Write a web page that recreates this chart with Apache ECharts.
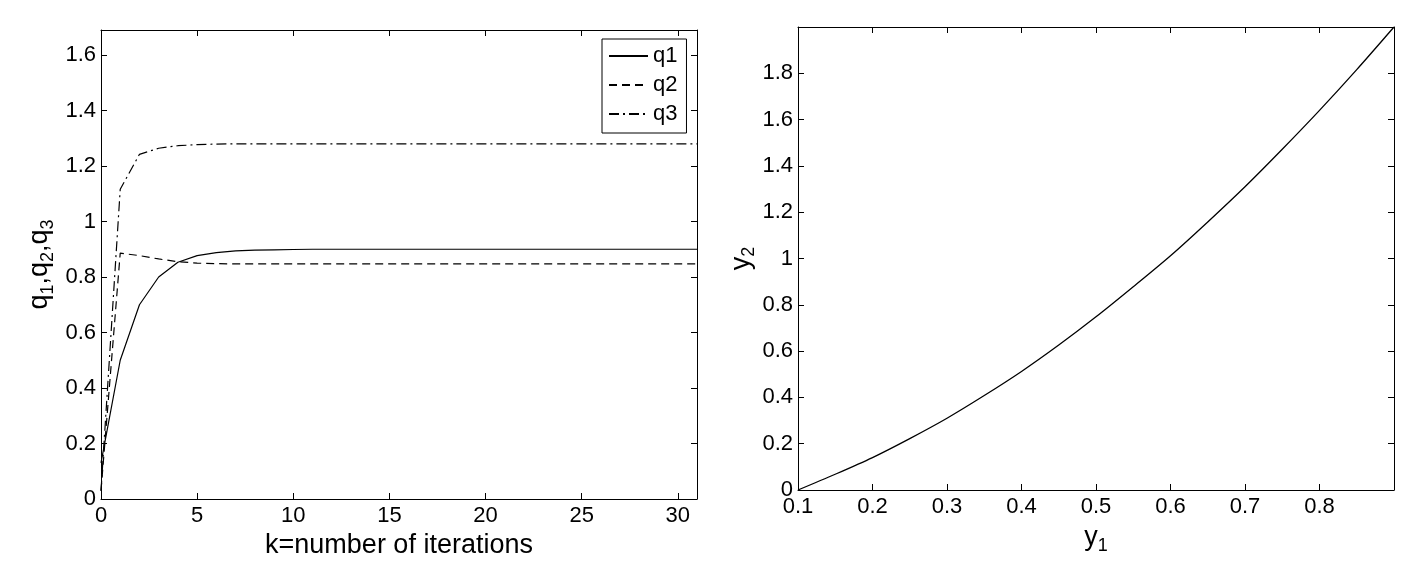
<!DOCTYPE html>
<html><head><meta charset="utf-8">
<script src="https://cdn.jsdelivr.net/npm/echarts/dist/echarts.min.js"></script>
<style>html,body{margin:0;padding:0;background:#fff}#c{width:1409px;height:566px}</style>
</head><body><div id="c"></div>
<script>
// ---- data ----
const iterations = [0,1,2,3,4,5,6,7,8,9,10,11,12,13,14,15,16,17,18,19,20,21,22,23,24,25,26,27,28,29,30,31];
const q1 = [0.13,0.50,0.70,0.80,0.853,0.877,0.888,0.894,0.897,0.898,0.899,0.900,0.900,0.900,0.900,0.900,0.900,0.900,0.900,0.900,0.900,0.900,0.900,0.900,0.900,0.900,0.900,0.900,0.900,0.900,0.900,0.900];
const q2 = [0.03,0.886,0.877,0.865,0.855,0.850,0.848,0.847,0.847,0.847,0.847,0.847,0.847,0.847,0.847,0.847,0.847,0.847,0.847,0.847,0.847,0.847,0.847,0.847,0.847,0.847,0.847,0.847,0.847,0.847,0.847,0.847];
const q3 = [0.03,1.116,1.242,1.264,1.273,1.277,1.279,1.280,1.280,1.280,1.280,1.280,1.280,1.280,1.280,1.280,1.280,1.280,1.280,1.280,1.280,1.280,1.280,1.280,1.280,1.280,1.280,1.280,1.280,1.280,1.280,1.280];
const y1Values = [0.10,0.15,0.20,0.25,0.30,0.35,0.40,0.45,0.50,0.55,0.60,0.65,0.70,0.75,0.80,0.85,0.90];
const y2Values = [0.000,0.068,0.140,0.222,0.310,0.408,0.512,0.626,0.748,0.878,1.012,1.158,1.310,1.472,1.640,1.816,2.000];
const seriesNames = ['q1','q2','q3'];
const leftXTitle = 'k=number of iterations';

const FONT = "'Liberation Sans', Arial, Helvetica, sans-serif";
const BLACK = '#000';

function pairs(xs, ys){ return xs.map((x,i)=>[x, ys[i]]); }

function baseAxis(extra){
  return Object.assign({
    type:'value',
    splitLine:{show:false},
    axisLine:{show:true, onZero:false, lineStyle:{color:BLACK, width:1}},
    axisTick:{show:true, inside:true, length:6, lineStyle:{color:BLACK, width:1}},
    axisLabel:{show:true, color:BLACK, fontSize:22, fontFamily:FONT, showMaxLabel:false},
  }, extra);
}
function mirror(a, pos){
  const m = JSON.parse(JSON.stringify(a));
  m.position = pos;
  m.axisLabel = {show:false};
  delete m.name;
  return m;
}
const subRich = {s:{fontSize:18,fontFamily:FONT,color:BLACK,padding:[16,0,0,0]}};

const lx = baseAxis({gridIndex:0, position:'bottom', min:0, max:31, interval:5,
  axisLabel:{show:true,color:BLACK,fontSize:22,fontFamily:FONT,showMaxLabel:false,margin:6},
  name:leftXTitle, nameLocation:'middle', nameGap:31,
  nameTextStyle:{color:BLACK,fontSize:27,fontFamily:FONT}});
const ly = baseAxis({gridIndex:0, position:'left', min:0, max:1.69, interval:0.2,
  axisLabel:{show:true,color:BLACK,fontSize:22,fontFamily:FONT,showMaxLabel:false,margin:5},
  name:'q{s|1},q{s|2},q{s|3}', nameLocation:'middle', nameGap:44,
  nameTextStyle:{color:BLACK,fontSize:27,fontFamily:FONT,rich:subRich}});
const rx = baseAxis({gridIndex:1, position:'bottom', min:0.1, max:0.9, interval:0.1,
  axisLabel:{show:true,color:BLACK,fontSize:22,fontFamily:FONT,showMaxLabel:false,margin:6},
  name:'y{s|1}', nameLocation:'middle', nameGap:31,
  nameTextStyle:{color:BLACK,fontSize:27,fontFamily:FONT,rich:subRich}});
const ry = baseAxis({gridIndex:1, position:'left', min:0, max:2, interval:0.2,
  axisLabel:{show:true,color:BLACK,fontSize:22,fontFamily:FONT,showMaxLabel:false,margin:5},
  name:'y{s|2}', nameLocation:'middle', nameGap:35,
  nameTextStyle:{color:BLACK,fontSize:27,fontFamily:FONT,rich:subRich}});

const option = {
  animation:false,
  backgroundColor:'#fff',
  grid:[
    {left:101, top:30, width:596, height:469},
    {left:798, top:27, width:596, height:463}
  ],
  xAxis:[lx, mirror(lx,'top'), rx, mirror(rx,'top')],
  yAxis:[ly, mirror(ly,'right'), ry, mirror(ry,'right')],
  legend:{
    left:602, top:39, orient:'vertical',
    data:seriesNames,
    backgroundColor:'#fff', borderColor:BLACK, borderWidth:1, borderRadius:0,
    padding:[6,9,8,6], itemGap:7, itemWidth:39, itemHeight:21,
    itemStyle:{color:'rgba(0,0,0,0)', borderWidth:0, opacity:0},
    textStyle:{color:BLACK,fontSize:22,fontFamily:FONT},
    selectedMode:false
  },
  series:[
    {name:seriesNames[0], type:'line', xAxisIndex:0, yAxisIndex:0, data:pairs(iterations,q1),
      showSymbol:false, symbol:'none', lineStyle:{color:BLACK,width:1.2,type:'solid'}, itemStyle:{color:BLACK}},
    {name:seriesNames[1], type:'line', xAxisIndex:0, yAxisIndex:0, data:pairs(iterations,q2),
      showSymbol:false, symbol:'none', lineStyle:{color:BLACK,width:1.2,type:[8,5]}, itemStyle:{color:BLACK}},
    {name:seriesNames[2], type:'line', xAxisIndex:0, yAxisIndex:0, data:pairs(iterations,q3),
      showSymbol:false, symbol:'none', lineStyle:{color:BLACK,width:1.2,type:[10,4,2,4]}, itemStyle:{color:BLACK}},
    {name:'y2', type:'line', xAxisIndex:2, yAxisIndex:2, data:pairs(y1Values,y2Values),
      showSymbol:false, symbol:'none', smooth:0.3, lineStyle:{color:BLACK,width:1.3}, itemStyle:{color:BLACK}}
  ]
};
const chart = echarts.init(document.getElementById('c'), null, {renderer:'canvas'});
chart.setOption(option);
</script>
</body></html>
